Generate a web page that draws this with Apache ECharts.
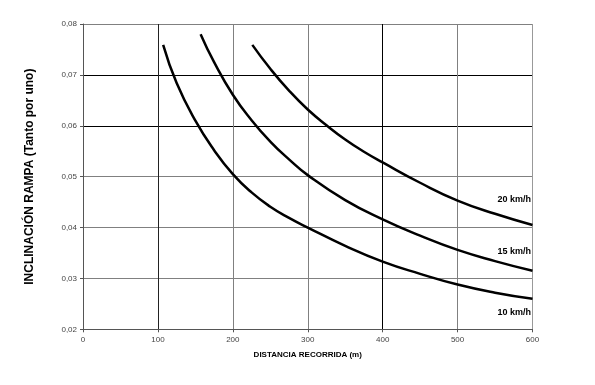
<!DOCTYPE html>
<html><head><meta charset="utf-8">
<script src="https://cdn.jsdelivr.net/npm/echarts@6/dist/echarts.min.js"></script>
<style>html,body{margin:0;padding:0;background:#fff}#c{width:595px;height:385px}</style>
</head><body><div id="c"></div>
<script>
const xTicks = [0, 100, 200, 300, 400, 500, 600];
const yTicks = ['0,02','0,03','0,04','0,05','0,06','0,07','0,08'];
const seriesNames = ['10 km/h', '15 km/h', '20 km/h'];
const v10 = [[107,0.0759],[125,0.0684],[150,0.0610],[175,0.0552],[200,0.0505],[225,0.0469],[250,0.0441],[275,0.0419],[300,0.0400],[350,0.0364],[400,0.0333],[450,0.0309],[500,0.0288],[550,0.0272],[600,0.0260]];
const v15 = [[157,0.0780],[175,0.0725],[200,0.0661],[225,0.0611],[250,0.0569],[275,0.0534],[300,0.0503],[350,0.0454],[400,0.0416],[450,0.0384],[500,0.0356],[550,0.0334],[600,0.0315]];
const v20 = [[226,0.0759],[250,0.0712],[275,0.0669],[300,0.0632],[325,0.0601],[350,0.0573],[375,0.0549],[400,0.0528],[450,0.0488],[500,0.0453],[550,0.0427],[600,0.0405]];
const labelPos = [[598,0.0233],[598,0.0353],[598,0.0456]];

const chart = echarts.init(document.getElementById('c'), null, {renderer:'canvas'});
const font = 'Liberation Sans, Arial, sans-serif';
const allData = [v10, v15, v20];
chart.setOption({
  animation: false,
  backgroundColor: '#fff',
  grid: {left: 83, top: 24, right: 62.5, bottom: 55.7, containLabel: false},
  xAxis: {
    type: 'value', min: 0, max: 600, interval: 100,
    name: 'DISTANCIA RECORRIDA (m)', nameLocation: 'middle', nameGap: 21,
    nameTextStyle: {fontFamily: font, fontSize: 8, fontWeight: 'bold', color: '#000'},
    axisLine: {show: true, lineStyle: {color: '#555', width: 1}},
    axisTick: {show: true, length: 3, lineStyle: {color: '#555'}},
    axisLabel: {fontFamily: font, fontSize: 8, color: '#444', margin: 6,
      formatter: v => String(xTicks[Math.round(v/100)])},
    splitLine: {show: true, lineStyle: {width: 1, color: ['#808080','#222','#808080','#808080','#000','#808080','#999']}}
  },
  yAxis: {
    type: 'value', min: 0.02, max: 0.08, interval: 0.01,
    name: 'INCLINACIÓN RAMPA (Tanto por uno)', nameLocation: 'middle', nameGap: 47, nameRotate: 90,
    nameTextStyle: {fontFamily: font, fontSize: 12, fontWeight: 'bold', color: '#000'},
    axisLine: {show: true, lineStyle: {color: '#555', width: 1}},
    axisTick: {show: true, length: 3, lineStyle: {color: '#555'}},
    axisLabel: {fontFamily: font, fontSize: 8, color: '#444', margin: 6,
      formatter: v => yTicks[Math.round((v - 0.02) / 0.01)]},
    splitLine: {show: true, lineStyle: {width: 1, color: ['#808080','#808080','#808080','#808080','#000','#000','#808080']}}
  },
  series: allData.map((d, i) => ({
    type: 'line', name: seriesNames[i], data: d, smooth: 0.5, showSymbol: false, symbol: 'none',
    lineStyle: {color: '#000', width: 2.5}, z: 3,
    markPoint: {
      symbol: 'circle', symbolSize: 0, silent: true,
      label: {show: true, position: 'left', distance: 0, formatter: seriesNames[i],
        fontFamily: font, fontSize: 9, fontWeight: 'bold', color: '#000'},
      data: [{coord: labelPos[i]}]
    }
  }))
});
</script></body></html>
